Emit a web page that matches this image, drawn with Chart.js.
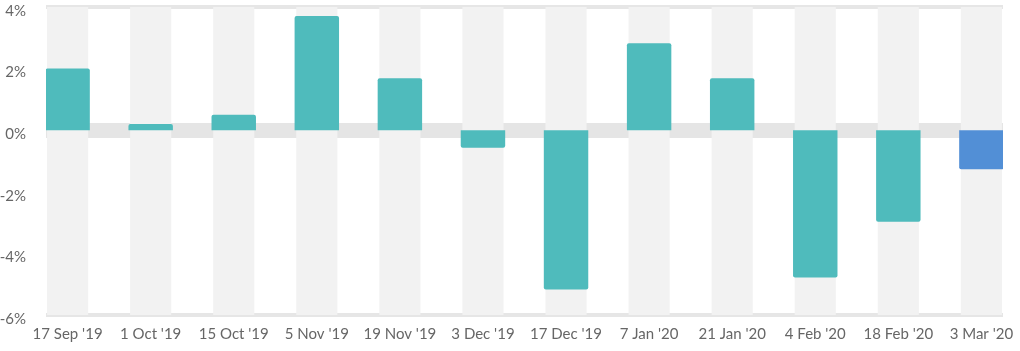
<!DOCTYPE html>
<html>
<head>
<meta charset="utf-8">
<script src="https://cdn.jsdelivr.net/npm/chart.js@4"></script>
<style>
  body { margin: 0; background: #fff; }
</style>
</head>
<body>
<canvas id="graficoBarras" width="1020" height="351"></canvas>
<script>
// datas das semanas
var datas = ["17 Sep '19", "1 Oct '19", "15 Oct '19", "5 Nov '19", "19 Nov '19", "3 Dec '19",
             "17 Dec '19", "7 Jan '20", "21 Jan '20", "4 Feb '20", "18 Feb '20", "3 Mar '20"];
// variação em %
var variacao = [2.0, 0.2, 0.5, 3.71, 1.69, -0.57, -5.17, 2.82, 1.69, -4.78, -2.97, -1.27];
// marcas do eixo y
var ticksY = [-6, -4, -2, 0, 2, 4];

var corNormal = "#4fbbbc";
var corAtual = "#528fd6";
var cores = [];
for (var i = 0; i < datas.length; i++) {
    cores.push(i == datas.length - 1 ? corAtual : corNormal);
}

var yMin = ticksY[0];
var yMax = ticksY[ticksY.length - 1];

var pontos = [];
var faixas = [];
for (var i = 0; i < datas.length; i++) {
    pontos.push({ x: i, y: variacao[i] });
    faixas.push({ x: i, y: [yMin, yMax] });   // faixa cinza atrás de cada coluna
}

Chart.defaults.font.family = "Lato";
Chart.defaults.font.size = 15;
Chart.defaults.color = "#666";

var contexto = document.getElementById('graficoBarras').getContext('2d');
var grafico = new Chart(contexto, {
    type: 'bar',
    data: {
        datasets: [{
            data: pontos,
            backgroundColor: cores,
            borderRadius: 2,
            grouped: false,
            categoryPercentage: 1,
            barPercentage: 0.535,
            order: 1
        }, {
            data: faixas,
            backgroundColor: "#f2f2f2",
            grouped: false,
            categoryPercentage: 1,
            barPercentage: 0.495,
            order: 2
        }]
    },
    options: {
        responsive: false,
        animation: false,
        layout: { padding: { top: 7, right: 17, bottom: 0, left: 0 } },
        plugins: {
            legend: { display: false },
            tooltip: { enabled: false }
        },
        scales: {
            x: {
                type: 'linear',
                offset: false,
                min: -0.26,
                max: 11.26,
                bounds: 'data',
                grid: { display: false, drawTicks: false },
                border: { display: false },
                afterBuildTicks: function (eixo) {
                    eixo.ticks = datas.map(function (d, i) { return { value: i }; });
                },
                afterFit: function (eixo) {
                    eixo.height = 36;
                    eixo.paddingLeft = 0;
                    eixo.paddingRight = 0;
                },
                ticks: {
                    autoSkip: false,
                    maxRotation: 0,
                    padding: 10,
                    callback: function (valor) { return datas[valor]; }
                }
            },
            y: {
                min: yMin,
                max: yMax,
                border: { display: false },
                grid: { display: false, drawTicks: false },
                afterBuildTicks: function (eixo) {
                    eixo.ticks = ticksY.map(function (v) { return { value: v }; });
                },
                afterFit: function (eixo) {
                    eixo.width = 46;
                    eixo.paddingTop = 0;
                    eixo.paddingBottom = 0;
                },
                ticks: {
                    padding: 20,
                    labelOffset: 4,
                    callback: function (valor) { return valor + "%"; }
                }
            },
            // eixo só para as linhas (faixa do zero e bordas)
            linhas: {
                type: 'linear',
                position: 'right',
                min: yMin,
                max: yMax,
                border: { display: false },
                ticks: { display: false },
                afterBuildTicks: function (eixo) {
                    eixo.ticks = [{ value: yMin }, { value: 0 }, { value: yMax }];
                },
                afterFit: function (eixo) {
                    eixo.width = 0;
                    eixo.paddingTop = 0;
                    eixo.paddingBottom = 0;
                },
                grid: {
                    drawTicks: false,
                    color: function (ctx) {
                        return ctx.tick.value === 0 ? "#e5e5e5" : "#e6e6e6";
                    },
                    lineWidth: function (ctx) {
                        return ctx.tick.value === 0 ? 15 : 4;
                    }
                }
            }
        }
    }
});
</script>
</body>
</html>
